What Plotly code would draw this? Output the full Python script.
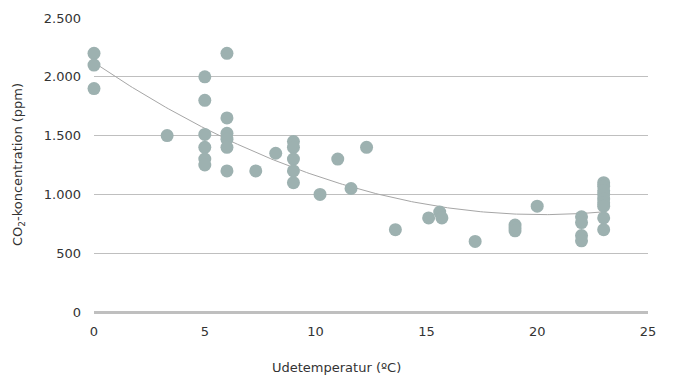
import numpy as np
import plotly.graph_objects as go

temp = [0, 0, 0,
        3.3,
        5, 5, 5, 5, 5, 5,
        6, 6, 6, 6, 6, 6,
        7.3, 8.2,
        9, 9, 9, 9, 9,
        10.2, 11, 11.6, 12.3, 13.6, 15.1, 15.6, 15.7, 17.2,
        19, 19, 19, 20,
        22, 22, 22, 22,
        23, 23, 23, 23, 23, 23, 23, 23, 23]
co2 = [2200, 2100, 1900,
       1500,
       2000, 1800, 1510, 1400, 1300, 1250,
       2200, 1650, 1520, 1470, 1400, 1200,
       1200, 1350,
       1450, 1400, 1300, 1200, 1100,
       1000, 1300, 1050, 1400, 700, 800, 850, 800, 600,
       740, 715, 690, 900,
       810, 760, 650, 605,
       1100, 1070, 1030, 1000, 960, 930, 900, 800, 700]

y_ticks = [0, 500, 1000, 1500, 2000, 2500]
x_ticks = [0, 5, 10, 15, 20, 25]
x_title = "Udetemperatur (ºC)"
y_title = "CO<sub>2</sub>-koncentration (ppm)"

coef = np.polyfit(temp, co2, 2)
xt = np.linspace(min(temp), max(temp), 200)
yt = np.polyval(coef, xt)

fig = go.Figure()
fig.add_trace(go.Scatter(x=xt, y=yt, mode="lines",
                         line=dict(color="#a6a6a6", width=1),
                         showlegend=False, hoverinfo="skip"))
fig.add_trace(go.Scatter(x=temp, y=co2, mode="markers", cliponaxis=False,
                         marker=dict(color="#9db1b0", size=13, line=dict(width=0)),
                         showlegend=False, hoverinfo="skip"))

font_family = "DejaVu Sans, Verdana, sans-serif"
fig.update_layout(
    width=674, height=383,
    margin=dict(l=86, r=34, t=10, b=79, autoexpand=False),
    paper_bgcolor="white", plot_bgcolor="white",
    separators=",.",
    font=dict(family=font_family, size=13, color="#333333"),
    xaxis=dict(range=[0, 25], tickvals=x_ticks, showgrid=False, zeroline=False,
               showline=False, ticks="", ticklabelstandoff=10, automargin=False),
    yaxis=dict(range=[0, 2500], tickvals=y_ticks, tickformat=",d",
               showgrid=True, gridcolor="#bfbfbf", gridwidth=1,
               zeroline=True, zerolinecolor="#bfbfbf", zerolinewidth=3,
               showline=False, ticks="", ticklabelstandoff=12, automargin=False),
    annotations=[
        dict(text=x_title, xref="paper", yref="paper", x=0.4386, y=-0.19,
             xanchor="center", yanchor="middle", showarrow=False,
             font=dict(size=13, color="#333333")),
        dict(text=y_title, xref="paper", yref="paper", x=-0.137, y=0.5,
             xanchor="center", yanchor="middle", textangle=-90, showarrow=False,
             font=dict(size=13, color="#333333")),
    ],
)
fig.write_html("out.html")
